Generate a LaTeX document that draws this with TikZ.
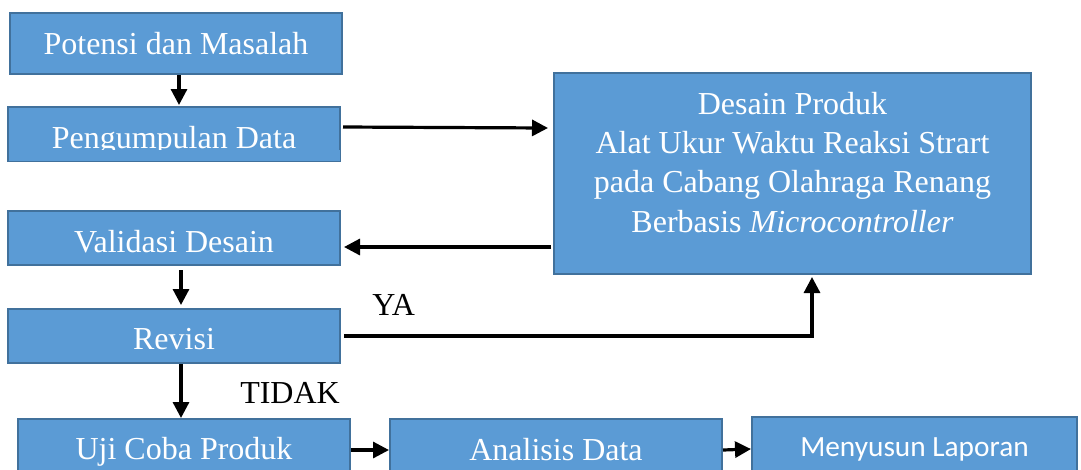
\documentclass[tikz,border=0pt]{standalone}
\usepackage{fontspec}
\setmainfont{Liberation Serif}
\newfontfamily\calibrifont{Carlito}
\usetikzlibrary{arrows.meta,calc}
\definecolor{boxfill}{RGB}{91,155,213}
\definecolor{boxline}{RGB}{65,113,156}
\tikzset{
  flowbox/.style={draw=boxline, fill=boxfill, line width=1.5pt, inner sep=0pt,
    anchor=north, text=white, font=\fontsize{24}{29.5}\selectfont, align=center},
  arr/.style={line width=2.4pt, -{Triangle[length=12pt,width=12pt]}},
  lbl/.style={inner sep=0pt, anchor=base west, font=\fontsize{24}{29}\selectfont}
}
\begin{document}
\begin{tikzpicture}[x={(0.75pt,0)}, y={(0,-0.75pt)}]
\useasboundingbox (0,0) rectangle (1081,469);
\clip (0,0) rectangle (1081,469);

\node[flowbox, minimum width=249pt, text height=30.75pt, text depth=15pt] (pot) at (176,12) {Potensi dan Masalah};
\node[flowbox, minimum width=249pt, text height=30.75pt, text depth=9.75pt] (peng) at (174,106) {Pengumpulan Data};
\fill[boxfill] ($(peng.south west)+(1.5,-12)$) rectangle ($(peng.south east)+(-1.5,-1.2)$);
\node[flowbox, minimum width=249pt, text height=30.75pt, text depth=9.75pt] (val) at (174,210) {Validasi Desain};
\node[flowbox, minimum width=249pt, text height=30pt, text depth=10.5pt] (rev) at (174,308) {Revisi};
\node[flowbox, minimum width=249pt, text height=30pt, text depth=16.5pt] (uji) at (184,418) {Uji Coba Produk};
\node[flowbox, minimum width=249pt, text height=30.75pt, text depth=15.75pt] (ana) at (556,418) {Analisis Data};
\node[flowbox, minimum width=243.75pt, text height=29.25pt, text depth=18.75pt, font=\calibrifont\fontsize{22}{26}\selectfont] (meny) at (914.5,416) {Menyusun Laporan};
\node[flowbox, minimum width=357.75pt, text height=119.25pt, text depth=31.5pt] (des) at (792.5,72)
  {Desain Produk\\Alat Ukur Waktu Reaksi Strart\\pada Cabang Olahraga Renang\\Berbasis \textit{Microcontroller}};

\node[lbl] (ya) at (372,315) {YA};
\node[lbl] (tidak) at (240,403) {TIDAK};

\draw[arr] ($(pot.south)+(3,0)$) -- ($(peng.north)+(5,-1)$);
\draw[arr] ($(peng.east)+(2,-7)$) -- ($(des.west|-peng.east)+(-5,-6)$);
\draw[arr] ($(des.west|-val.east)+(-2,9)$) -- ($(val.east)+(3,9)$);
\draw[arr] ($(val.south)+(7,4)$) -- ($(rev.north)+(7,-3)$);
\draw[arr] ($(rev.south)+(7,0)$) -- ($(uji.north)+(-3,0)$);
\coordinate (corner) at (812,336);
\draw[arr] ($(rev.east)+(3,0)$) -- (corner) -- ($(corner|-des.south)+(0,2)$);
\draw[arr] (uji.east) -- (ana.west);
\draw[arr] (ana.east) -- (meny.west);
\end{tikzpicture}
\end{document}
